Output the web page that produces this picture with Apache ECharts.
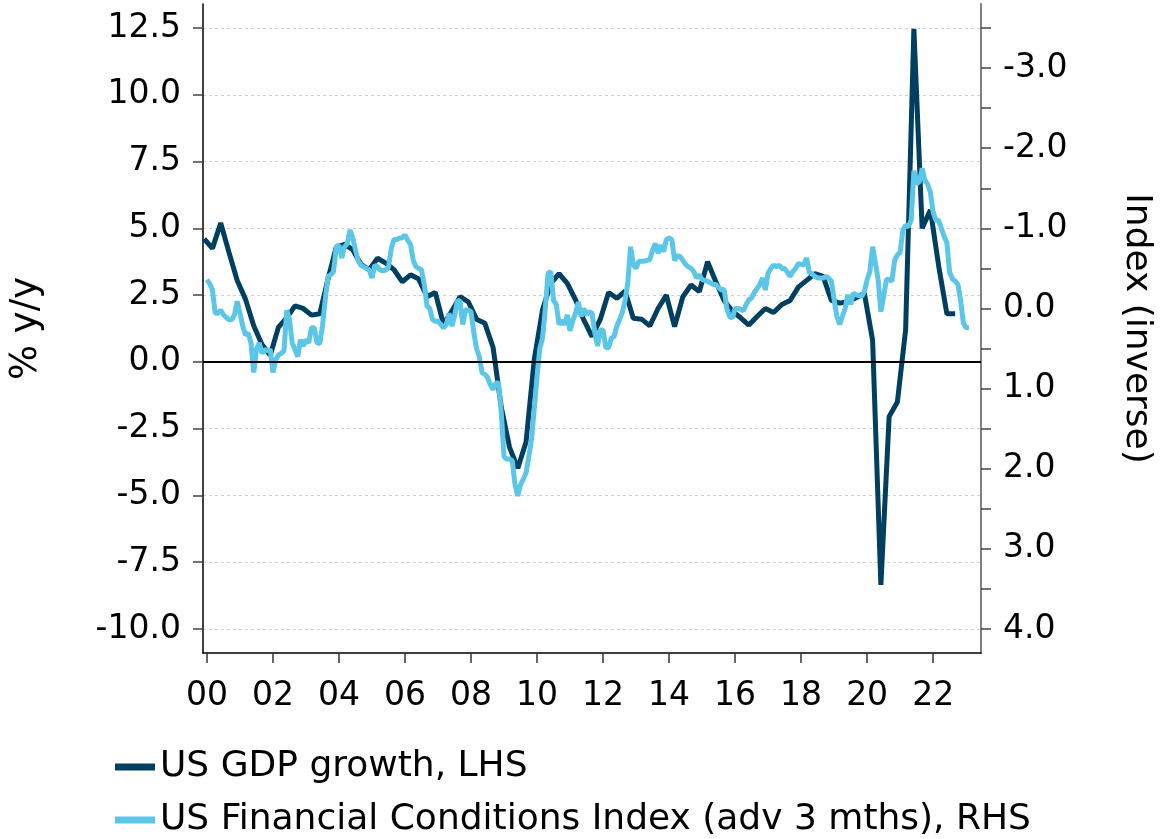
<!DOCTYPE html>
<html><head><meta charset="utf-8">
<script src="https://cdn.jsdelivr.net/npm/echarts@6/dist/echarts.min.js"></script>
<style>html,body{margin:0;padding:0;background:#fff}#c{width:1162px;height:839px}</style>
</head><body><div id="c"></div>
<script>
// ---- data ----
// US GDP growth y/y (%), quarterly, first value = Q4 1999 (plotted at quarter's last month)
const gdpStartYear = 1999 + 11 / 12;
const gdpGrowth = [
  4.6,
  4.25, 5.2, 4.1, 3.05,
  2.35, 1.35, 0.65, 0.25,
  1.3, 1.65, 2.1, 2.0,
  1.75, 1.8, 3.1, 4.3,
  4.4, 4.2, 3.65, 3.45,
  3.88, 3.7, 3.45, 3.0,
  3.26, 3.1, 2.44, 2.6,
  1.4, 1.9, 2.44, 2.25,
  1.6, 1.45, 0.55, -1.7,
  -3.2, -3.98, -3.0, 0.1,
  1.95, 2.94, 3.3, 2.94,
  2.32, 1.57, 0.95, 1.6,
  2.6, 2.38, 2.65, 1.63,
  1.6, 1.35, 2.0, 2.5,
  1.32, 2.44, 2.88, 2.63,
  3.75, 3.0, 2.3, 1.9,
  1.65, 1.38, 1.7, 2.0,
  1.85, 2.15, 2.3, 2.8,
  3.05, 3.3, 3.2, 2.3,
  2.2, 2.25, 2.4, 2.57,
  0.8, -8.35, -2.05, -1.5,
  1.2, 12.47, 5.0, 5.69,
  3.6, 1.8, 1.8
];
// US Financial Conditions Index (advanced 3 months), monthly, first value = Jan 2000
const fciStartYear = 2000;
const fciIndex = [
  -0.36,-0.31,-0.23,0.06,0.06,0.02,0.08,0.11,0.14,0.14,0.08,-0.09,
  0.06,0.22,0.33,0.31,0.43,0.8,0.51,0.43,0.56,0.51,0.53,0.51,
  0.8,0.64,0.58,0.56,0.53,0.02,0.14,0.43,0.51,0.6,0.39,0.47,
  0.39,0.43,0.24,0.24,0.43,0.44,0.22,-0.11,-0.4,-0.42,-0.46,-0.77,
  -0.79,-0.63,-0.77,-0.81,-0.98,-0.88,-0.73,-0.59,-0.54,-0.52,-0.5,-0.48,
  -0.38,-0.54,-0.52,-0.48,-0.47,-0.48,-0.52,-0.75,-0.86,-0.86,-0.88,-0.88,
  -0.92,-0.85,-0.8,-0.6,-0.52,-0.5,-0.48,-0.3,-0.03,0.0,0.14,0.16,
  0.16,0.2,0.245,0.2,0.06,0.22,0.1,-0.09,-0.1,0.2,0.02,0.02,
  0.04,0.3,0.5,0.6,0.8,0.82,0.86,0.95,1.01,0.93,0.93,1.3,
  1.85,1.88,1.88,1.9,2.2,2.34,2.2,2.13,2.05,1.85,1.63,1.25,
  0.85,0.5,0.37,0.0,-0.44,-0.46,-0.1,-0.05,0.2,0.15,0.2,0.08,
  0.28,0.15,0.06,-0.08,0.1,0.0,0.08,0.04,0.06,0.3,0.47,0.27,
  0.27,0.49,0.49,0.37,0.35,0.22,0.14,0.05,-0.1,-0.32,-0.77,-0.55,
  -0.5,-0.59,-0.59,-0.59,-0.6,-0.61,-0.73,-0.81,-0.69,-0.79,-0.71,-0.86,
  -0.88,-0.86,-0.6,-0.66,-0.65,-0.6,-0.55,-0.52,-0.5,-0.46,-0.38,-0.42,
  -0.36,-0.35,-0.34,-0.32,-0.3,-0.3,-0.26,-0.23,-0.24,0.0,0.1,0.12,
  0.0,0.0,0.01,0.03,-0.05,-0.11,-0.13,-0.2,-0.25,-0.3,-0.38,-0.23,
  -0.44,-0.5,-0.54,-0.52,-0.54,-0.5,-0.5,-0.45,-0.4,-0.46,-0.5,-0.56,
  -0.55,-0.54,-0.63,-0.45,-0.43,-0.4,-0.38,-0.38,-0.38,-0.4,-0.38,-0.34,
  -0.11,0.1,0.2,0.1,0.0,-0.17,-0.05,-0.19,-0.17,-0.16,-0.15,-0.21,
  -0.36,-0.46,-0.77,-0.57,-0.36,0.04,-0.15,-0.36,-0.36,-0.34,-0.6,-0.67,
  -0.7,-0.98,-1.04,-1.02,-1.1,-1.72,-1.56,-1.58,-1.75,-1.6,-1.55,-1.45,
  -1.2,-1.1,-1.1,-1.0,-0.9,-0.82,-0.45,-0.37,-0.34,-0.3,-0.1,0.18,
  0.24,0.24
];
const xTickYears = [2000,2002,2004,2006,2008,2010,2012,2014,2016,2018,2020,2022];
const leftTicks = [-10,-7.5,-5,-2.5,0,2.5,5,7.5,10,12.5];
const rightTicks = [-3.5,-3,-2.5,-2,-1.5,-1,-0.5,0,0.5,1,1.5,2,2.5,3,3.5,4];
const rightLabels = [-3,-2,-1,0,1,2,3,4];
const seriesNames = ['US GDP growth, LHS', 'US Financial Conditions Index (adv 3 mths), RHS'];

// ---- build ----
const gdpData = gdpGrowth.map((v, i) => [gdpStartYear + i * 0.25, v]);
const fciData = fciIndex.map((v, i) => [fciStartYear + i / 12, v]);
const FONT = 'DejaVu Sans';
const dark = '#003f5f', light = '#5bc6e8';

const chart = echarts.init(document.getElementById('c'), null, {renderer: 'canvas'});
chart.setOption({
  animation: false,
  backgroundColor: '#fff',
  textStyle: {fontFamily: FONT},
  grid: {left: 200, right: 176, top: 4, bottom: 186, containLabel: false},
  legend: {
    orient: 'vertical', left: 115, top: 749, height: 120, padding: 0, itemGap: 17,
    itemWidth: 40, itemHeight: 7, icon: 'rect',
    textStyle: {fontFamily: FONT, fontSize: 36, lineHeight: 36, color: '#000'},
    data: seriesNames
  },
  xAxis: {
    type: 'value', min: 1999.88, max: 2023.45,
    axisLine: {onZero: false, lineStyle: {color: '#000', width: 1.5}},
    axisTick: {show: true, length: 10, customValues: xTickYears, lineStyle: {color: '#333', width: 1.5}},
    axisLabel: {customValues: xTickYears, margin: 27, fontFamily: FONT, fontSize: 33, color: '#000',
      formatter: v => String(Math.round(v) % 100).padStart(2, '0')},
    splitLine: {show: false}
  },
  yAxis: [{
    type: 'value', position: 'left', min: -10.9, max: 13.4,
    name: '% y/y', nameLocation: 'middle', nameGap: 158, nameRotate: 90,
    nameTextStyle: {fontFamily: FONT, fontSize: 37, color: '#000'},
    axisLine: {show: true, lineStyle: {color: '#000', width: 1.5}},
    axisTick: {show: true, length: 10, customValues: leftTicks, lineStyle: {color: '#444', width: 1.5}},
    axisLabel: {customValues: leftTicks, margin: 22, fontFamily: FONT, fontSize: 33, color: '#000',
      formatter: v => v.toFixed(1)},
    splitLine: {show: true, lineStyle: {color: '#c5d3da', width: 1, type: [3, 3]}}
  }, {
    type: 'value', position: 'right', inverse: true, min: -3.8, max: 4.3,
    name: 'Index (inverse)', nameLocation: 'middle', nameGap: 137, nameRotate: -90,
    nameTextStyle: {fontFamily: FONT, fontSize: 36, color: '#000'},
    axisLine: {show: true, lineStyle: {color: '#808080', width: 2}},
    axisTick: {show: true, length: 10, customValues: rightTicks, lineStyle: {color: '#444', width: 1.5}},
    axisLabel: {customValues: rightLabels, margin: 22, fontFamily: FONT, fontSize: 33, color: '#000',
      formatter: v => v.toFixed(1)},
    splitLine: {show: false}
  }],
  series: [{
    name: seriesNames[0], type: 'line', yAxisIndex: 0, data: gdpData,
    showSymbol: false, symbol: 'none', color: dark,
    lineStyle: {color: dark, width: 5},
    markLine: {silent: true, symbol: 'none', label: {show: false},
      lineStyle: {color: '#000', width: 2, type: 'solid'}, data: [{yAxis: 0}]},
    z: 2
  }, {
    name: seriesNames[1], type: 'line', yAxisIndex: 1, data: fciData,
    showSymbol: false, symbol: 'none', color: light,
    lineStyle: {color: light, width: 5},
    z: 3
  }]
});
</script></body></html>
